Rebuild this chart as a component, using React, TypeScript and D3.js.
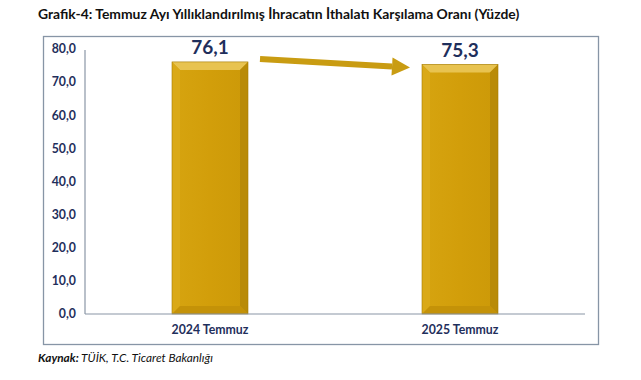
import React from "react";
import * as d3 from "d3";

const categories = ["2024 Temmuz", "2025 Temmuz"];
const values = [76.1, 75.3];
const valueLabels = ["76,1", "75,3"];
const yTicks = [0, 10, 20, 30, 40, 50, 60, 70, 80];
const title = "Grafik-4: Temmuz Ayı Yıllıklandırılmış İhracatın İthalatı Karşılama Oranı (Yüzde)";

const W = 641, H = 380;
const plot = { left: 85, right: 585, top: 49, bottom: 314 };
const navy = "#1F2F5C";
const font = "Lato, 'Open Sans', sans-serif";

export default function App() {
  const x = d3.scaleBand<string>().domain(categories).range([plot.left, plot.right]).paddingInner(0.696).paddingOuter(0.348);
  const y = d3.scaleLinear().domain([0, 80]).range([plot.bottom, plot.top]);
  const bw = x.bandwidth();
  const bev = 8;
  const fmt = (v: number) => d3.format(".1f")(v).replace(".", ",");

  const x0c = x(categories[0])! + bw + 12;
  const y0c = y(values[0]) - 3;
  const x1c = x(categories[1])! - 12;
  const y1c = y(values[1]) + 3;
  const ang = Math.atan2(y1c - y0c, x1c - x0c);
  const headLen = 18, headW = 9;
  const bx = x1c - headLen * Math.cos(ang), by = y1c - headLen * Math.sin(ang);
  const nx = -Math.sin(ang), ny = Math.cos(ang);

  return (
    <svg width={W} height={H} style={{ position: "absolute", left: 0, top: 0, background: "#fff" }}>
      <defs>
        <linearGradient id="face" x1="0" x2="1" y1="0" y2="0">
          <stop offset="0" stopColor="#D6A410" />
          <stop offset="0.5" stopColor="#D29E0A" />
          <stop offset="1" stopColor="#CC9908" />
        </linearGradient>
      </defs>
      <text x={38} y={19} fontFamily={font} fontWeight={700} fontSize={13.9} fill="#111">{title}</text>
      <rect x={43.5} y={36.5} width={555} height={308} fill="#fff" stroke="#8795A6" strokeWidth={1.3} />
      {yTicks.map((t) => (
        <text key={t} x={76} y={y(t)} dy="0.35em" textAnchor="end" fontFamily={font} fontWeight={700} fontSize={12.3} fill={navy}>{fmt(t)}</text>
      ))}
      <line x1={plot.left} x2={plot.left} y1={plot.top + 1} y2={plot.bottom} stroke="#8A96A6" strokeWidth={1.2} />
      {categories.map((c, i) => {
        const x0 = x(c)!, x1 = x0 + bw, yt = y(values[i]), yb = y(0);
        return (
          <g key={c}>
            <rect x={x0} y={yt} width={bw} height={yb - yt} fill="url(#face)" />
            <polygon points={`${x0},${yt} ${x1},${yt} ${x1 - bev},${yt + bev} ${x0 + bev},${yt + bev}`} fill="#E8C350" />
            <polygon points={`${x0},${yt} ${x0 + bev},${yt + bev} ${x0 + bev},${yb - bev} ${x0},${yb}`} fill="#DAA918" />
            <polygon points={`${x1},${yt} ${x1},${yb} ${x1 - bev},${yb - bev} ${x1 - bev},${yt + bev}`} fill="#B98B08" />
            <polygon points={`${x0},${yb} ${x1},${yb} ${x1 - bev},${yb - bev} ${x0 + bev},${yb - bev}`} fill="#C49208" />
            <rect x={x0} y={yt} width={bw} height={yb - yt} fill="none" stroke="#A57C05" strokeWidth={0.6} />
            <text x={x0 + bw / 2} y={yt - 8} textAnchor="middle" fontFamily={font} fontWeight={700} fontSize={19} fill={navy}>{valueLabels[i]}</text>
            <text x={x0 + bw / 2} y={334} textAnchor="middle" fontFamily={font} fontWeight={700} fontSize={12.3} fill={navy}>{c}</text>
          </g>
        );
      })}
      <line x1={plot.left} x2={plot.right} y1={plot.bottom} y2={plot.bottom} stroke="#8A96A6" strokeWidth={1.2} />
      <line x1={x0c} y1={y0c} x2={bx} y2={by} stroke="#C99C12" strokeWidth={6} />
      <polygon points={`${x1c},${y1c} ${bx + nx * headW},${by + ny * headW} ${bx - nx * headW},${by - ny * headW}`} fill="#C99C12" />
      <text x={38} y={362} fontFamily={font} fontSize={11.8} fontStyle="italic" fill="#111">
        <tspan fontWeight={700}>Kaynak:</tspan> TÜİK, T.C. Ticaret Bakanlığı
      </text>
    </svg>
  );
}
